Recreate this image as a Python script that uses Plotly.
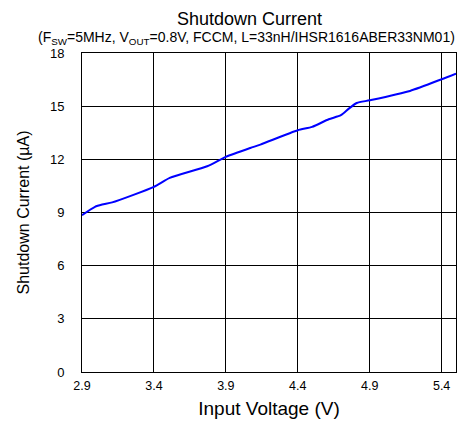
import plotly.graph_objects as go

# Shutdown current vs input voltage
vin = [2.90, 2.99, 3.04, 3.11, 3.40, 3.51, 3.77, 3.90, 4.07, 4.14, 4.40, 4.50,
       4.615, 4.70, 4.755, 4.81, 4.90, 5.18, 5.40, 5.50]
i_sd = [8.85, 9.32, 9.45, 9.57, 10.45, 10.95, 11.61, 12.14, 12.64, 12.83, 13.64, 13.83,
        14.26, 14.49, 14.86, 15.18, 15.33, 15.86, 16.52, 16.84]

x_ticks = [2.9, 3.4, 3.9, 4.4, 4.9, 5.4]
y_ticks = [0, 3, 6, 9, 12, 15, 18]

FONT = "Liberation Sans, Arial, sans-serif"

fig = go.Figure()
fig.add_trace(go.Scatter(
    x=vin, y=i_sd, mode="lines",
    line=dict(color="#0000FF", width=2, shape="spline", smoothing=0.6),
    showlegend=False,
))

axis_common = dict(
    showgrid=True, gridcolor="black", gridwidth=1,
    showline=True, linecolor="black", linewidth=1, mirror=True,
    zeroline=False, ticks="",
)

W, H = 465, 430
l, r, t, b = 82, 9, 53, 58
pw, ph = W - l - r, H - t - b

fig.update_layout(
    width=W, height=H,
    margin=dict(l=l, r=r, t=t, b=b),
    paper_bgcolor="white", plot_bgcolor="white",
    font=dict(family=FONT, color="black"),
    xaxis=dict(range=[2.9, 5.5], tickvals=x_ticks,
               ticktext=[f"{v:.1f}" for v in x_ticks],
               tickfont=dict(family=FONT, size=12.5, color="black"),
               ticklabelstandoff=2,
               title=dict(text="Input Voltage (V)\u00a0\u00a0", font=dict(size=19), standoff=9),
               **axis_common),
    yaxis=dict(range=[0, 18], tickvals=y_ticks,
               tickfont=dict(family=FONT, size=13, color="black"),
               ticklabelstandoff=14,
               title=dict(text="Shutdown Current (µA)", font=dict(size=16), standoff=16),
               **axis_common),
)

# header lines, positioned in page pixels and converted to paper coordinates
headers = [
    ("Shutdown Current", 249, 19, 18),
    ("(F<sub>SW</sub>=5MHz, V<sub>OUT</sub>=0.8V, FCCM, L=33nH/IHSR1616ABER33NM01)", 246.5, 38, 14),
]
for text, px, py, size in headers:
    fig.add_annotation(
        text=text, showarrow=False,
        x=(px - l) / pw, y=(H - b - py) / ph,
        xref="paper", yref="paper", xanchor="center", yanchor="middle",
        font=dict(size=size),
    )

fig.write_html("out.html")
